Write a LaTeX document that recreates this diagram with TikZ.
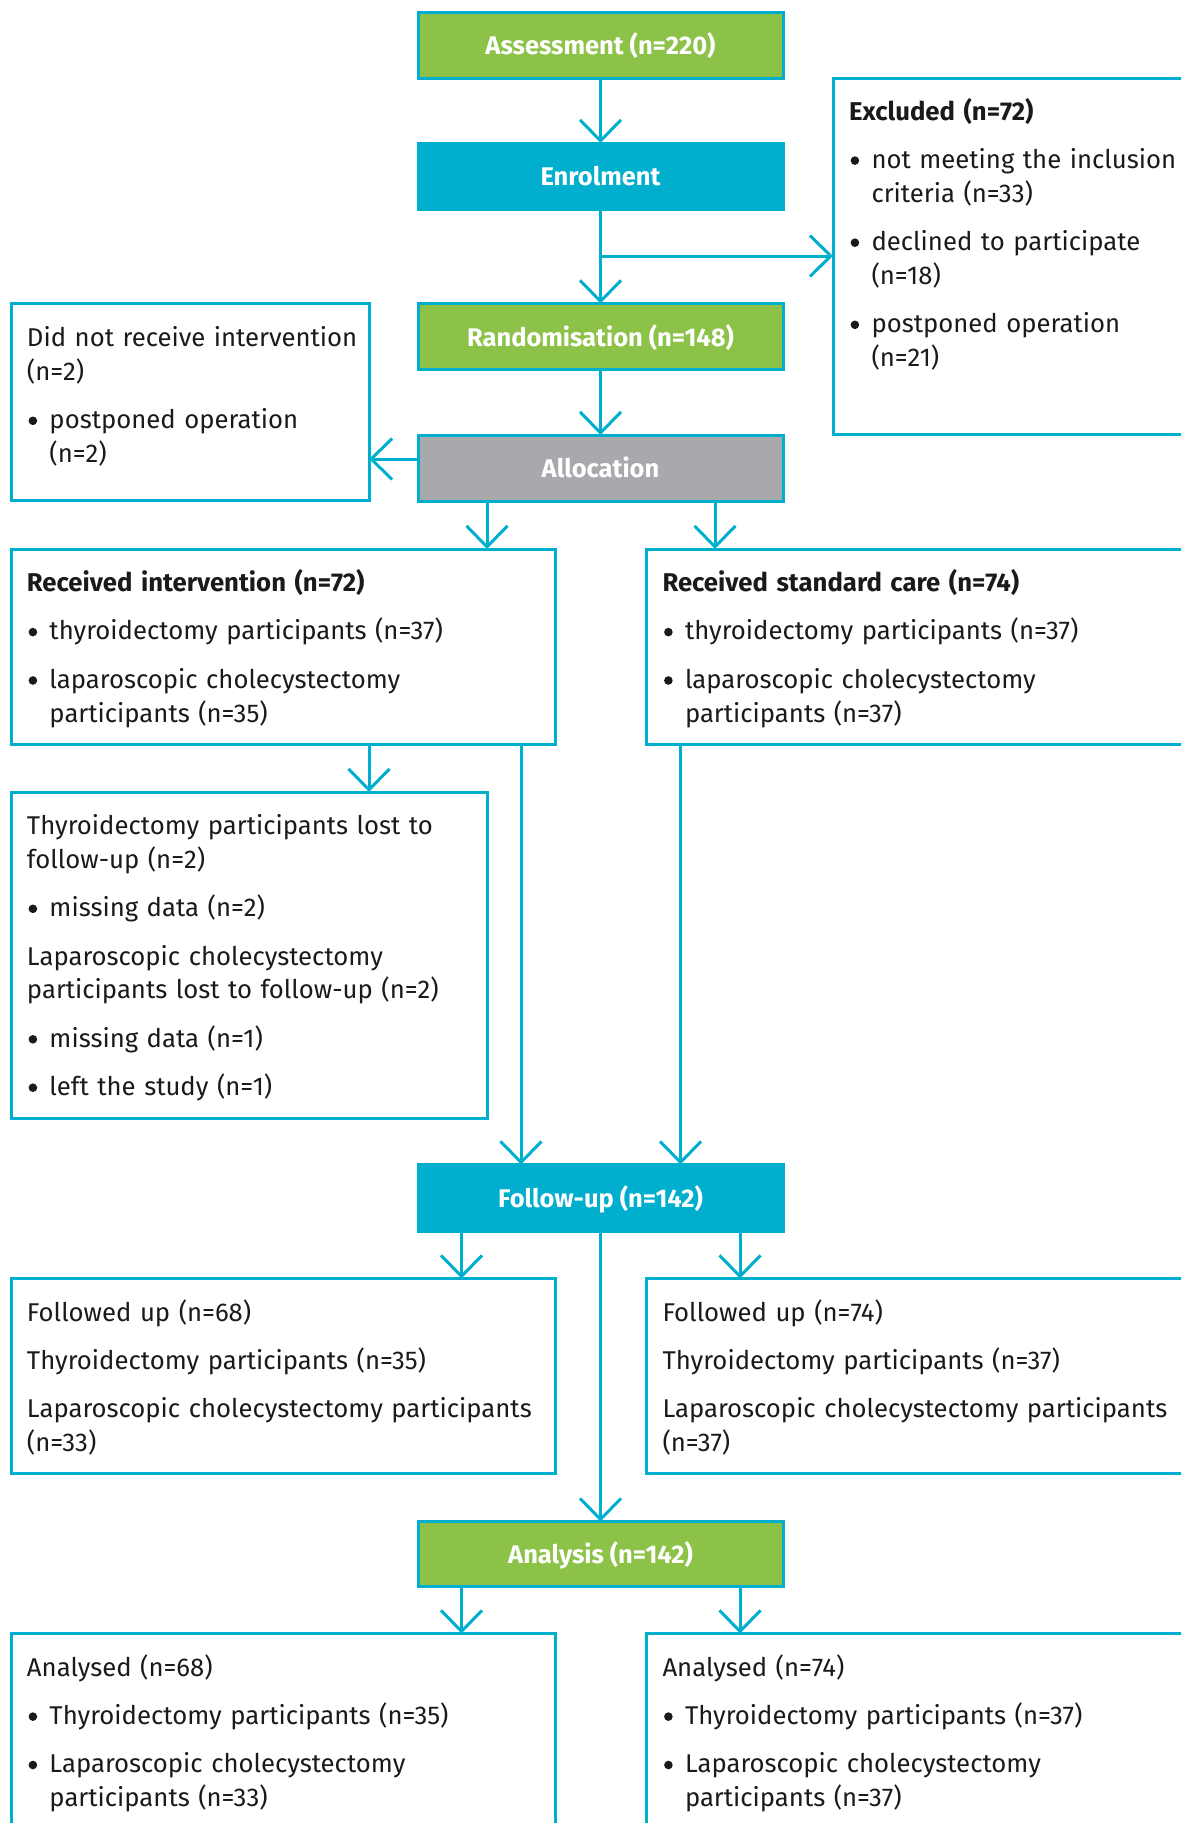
\documentclass[tikz,border=0pt]{standalone}
\usepackage{fontspec}
\setmainfont{Fira Sans}
\usetikzlibrary{arrows.meta,calc}
\definecolor{cyanb}{RGB}{0,174,206}
\definecolor{greenb}{RGB}{141,194,73}
\definecolor{grayb}{RGB}{167,169,172}
\definecolor{txtc}{RGB}{26,26,26}
\newcommand\bdot{\tikz[baseline=0pt,x=1pt,y=1pt]\fill[txtc] (4.3,7.8) circle[radius=4.3];}
\newcommand\nl{\hfil\break}
\newcommand\bitem[1]{\par\hangindent=22.5pt\hangafter=1\noindent\makebox[22.5pt][l]{\hspace{1.6pt}\bdot}#1\par}
\begin{document}
\begin{tikzpicture}[x=1pt,y=-1pt,
  every node/.style={inner sep=0pt, outer sep=0pt},
  stage/.style={draw=cyanb, line width=3pt, minimum width=365pt, minimum height=66pt, text height=25pt, text depth=6pt, font=\fontsize{25.5}{30}\selectfont\bfseries, text=white},
  wbox/.style={draw=cyanb, line width=3pt, fill=white, anchor=north west},
  btxt/.style={anchor=base west, text width=700pt, align=left, text=txtc, font=\fontsize{25.7}{33.7}\selectfont, execute at begin node={\setlength{\parskip}{14.7pt}}},
  arr/.style={draw=cyanb, line width=3pt, -{Straight Barb[length=21pt,width=41pt]}},
  ln/.style={draw=cyanb, line width=3pt}
]
\path[use as bounding box] (0,0) rectangle (1181,1823);
\clip (0,0) rectangle (1181,1823);

% stage boxes
\node[stage, fill=greenb] (assess) at (600.5,45) {Assessment (n=220)};
\node[stage, fill=cyanb] (enrol) at (600.5,176) {Enrolment};
\node[stage, fill=greenb] (random) at (600.5,336.5) {Randomisation (n=148)};
\node[stage, fill=grayb] (alloc) at (600.5,468) {Allocation};
\node[stage, fill=cyanb, minimum height=67pt] (follow) at (600.5,1198) {Follow-up (n=142)};
\node[stage, fill=greenb, minimum height=65pt] (analysis) at (600.5,1554) {Analysis (n=142)};

% white boxes
\node[wbox, minimum width=400pt, minimum height=356pt] (excl) at (833,78) {};
\node[wbox, minimum width=358pt, minimum height=197pt] (dnr) at (11,303) {};
\node[wbox, minimum width=544pt, minimum height=195pt] (recint) at (11,549) {};
\node[wbox, minimum width=590pt, minimum height=195pt] (stdcare) at (646.5,549) {};
\node[wbox, minimum width=476pt, minimum height=326pt] (lost) at (11,792) {};
\node[wbox, minimum width=544pt, minimum height=195pt] (fuL) at (11,1278.5) {};
\node[wbox, minimum width=590pt, minimum height=195pt] (fuR) at (646.5,1278.5) {};
\node[wbox, minimum width=544pt, minimum height=270pt] (anL) at (11,1633.5) {};
\node[wbox, minimum width=590pt, minimum height=270pt] (anR) at (646.5,1633.5) {};

% texts
\node[btxt] (exclT) at ([xshift=16pt,yshift=-42pt]excl.north west) {\textbf{Excluded (n=72)}
\bitem{not meeting the inclusion\nl criteria (n=33)}
\bitem{declined to participate\nl (n=18)}
\bitem{postponed operation\nl (n=21)}};

\node[btxt] (dnrT) at ([xshift=16pt,yshift=-43.5pt]dnr.north west) {Did not receive intervention\nl (n=2)
\bitem{postponed operation\nl (n=2)}};

\node[btxt] (recintT) at ([xshift=16pt,yshift=-42.5pt]recint.north west) {\textbf{Received intervention (n=72)}
\bitem{thyroidectomy participants (n=37)}
\bitem{laparoscopic cholecystectomy\nl participants (n=35)}};

\node[btxt] (stdcareT) at ([xshift=16pt,yshift=-42.5pt]stdcare.north west) {\textbf{Received standard care (n=74)}
\bitem{thyroidectomy participants (n=37)}
\bitem{laparoscopic cholecystectomy\nl participants (n=37)}};

\node[btxt] (lostT) at ([xshift=16pt,yshift=-42.5pt]lost.north west) {Thyroidectomy participants lost to\nl follow-up (n=2)
\bitem{missing data (n=2)}
Laparoscopic cholecystectomy\nl participants lost to follow-up (n=2)
\bitem{missing data (n=1)}
\bitem{left the study (n=1)}};

\node[btxt] (fuLT) at ([xshift=16pt,yshift=-42.5pt]fuL.north west) {Followed up (n=68)
\par Thyroidectomy participants (n=35)
\par Laparoscopic cholecystectomy participants\nl (n=33)};

\node[btxt] (fuRT) at ([xshift=16pt,yshift=-42.5pt]fuR.north west) {Followed up (n=74)
\par Thyroidectomy participants (n=37)
\par Laparoscopic cholecystectomy participants\nl (n=37)};

\node[btxt] (anLT) at ([xshift=16pt,yshift=-42.5pt]anL.north west) {Analysed (n=68)
\bitem{Thyroidectomy participants (n=35)}
\bitem{Laparoscopic cholecystectomy\nl participants (n=33)}};

\node[btxt] (anRT) at ([xshift=16pt,yshift=-42.5pt]anR.north west) {Analysed (n=74)
\bitem{Thyroidectomy participants (n=37)}
\bitem{Laparoscopic cholecystectomy\nl participants (n=37)}};

% connectors
\draw[arr] (assess) -- (enrol);
\draw[arr] (enrol) -- (random);
\coordinate (br) at ($(enrol.south)+(0,47)$);
\draw[arr] (br) -- (br -| excl.west);
\draw[arr] (random) -- (alloc);
\draw[arr] ([yshift=9pt]alloc.west) -- ([yshift=9pt]alloc.west -| dnr.east);
\draw[arr] ([xshift=-113.5pt]alloc.south) -- ([xshift=-113.5pt]alloc.south |- recint.north);
\draw[arr] ([xshift=114.5pt]alloc.south) -- ([xshift=114.5pt]alloc.south |- stdcare.north);
\draw[arr] ([xshift=358pt]recint.south west) -- ([xshift=358pt]recint.south west |- lost.north);
\draw[arr] ([xshift=510pt]recint.south west) -- ([xshift=510pt]recint.south west |- follow.north);
\draw[arr] ([xshift=34pt]stdcare.south west) -- ([xshift=34pt]stdcare.south west |- follow.north);
\draw[arr] ([xshift=-139pt]follow.south) -- ([xshift=-139pt]follow.south |- fuL.north);
\draw[arr] ([xshift=139.5pt]follow.south) -- ([xshift=139.5pt]follow.south |- fuR.north);
\draw[arr] (follow) -- (analysis);
\draw[arr] ([xshift=-139pt]analysis.south) -- ([xshift=-139pt]analysis.south |- anL.north);
\draw[arr] ([xshift=139.5pt]analysis.south) -- ([xshift=139.5pt]analysis.south |- anR.north);
\end{tikzpicture}
\end{document}
